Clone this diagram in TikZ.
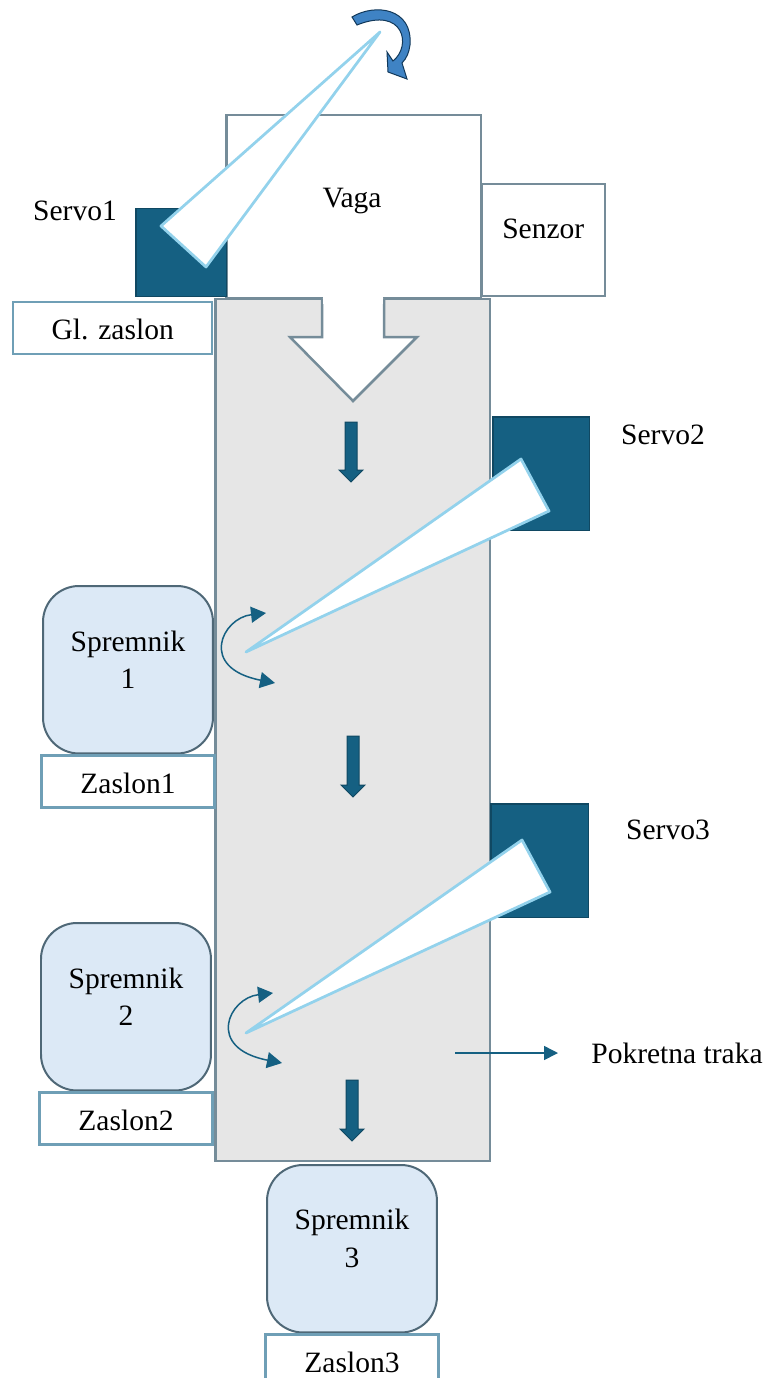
\documentclass[tikz,border=0pt]{standalone}
\usepackage{fontspec}
\setmainfont{Liberation Serif}
\usetikzlibrary{positioning, arrows.meta}
\definecolor{servoBlue}{HTML}{156082}
\definecolor{servoEdge}{HTML}{104862}
\definecolor{frameGrey}{HTML}{758C99}
\definecolor{beltGrey}{HTML}{E6E6E6}
\definecolor{flapBlue}{HTML}{93D2EC}
\definecolor{tankBlue}{HTML}{DCE9F6}
\definecolor{tankEdge}{HTML}{4F6877}
\definecolor{screenEdge}{HTML}{6F9FB6}
\definecolor{turnBlue}{HTML}{3F83C4}
\definecolor{turnEdge}{HTML}{12395A}
\tikzset{
    dropArrow/.pic = {
    \draw[fill=servoBlue, draw=servoEdge, line width=0.02cm] (-6,-#1) -- (6,-#1) -- (6,-12) -- (12,-12) -- (0,0) -- (-12,-12) -- (-6,-12) -- cycle;
    },
    box/.style={rectangle, draw=frameGrey, fill=white, line width=0.05cm, inner sep=0, anchor=north west},
    servo/.style={rectangle, draw=servoEdge, fill=servoBlue, line width=0.03cm, inner sep=0, anchor=north west},
    screen/.style={rectangle, draw=screenEdge, fill=white, line width=0.05cm, inner sep=0, minimum height=1.04cm, text height=0.46cm, text depth=0cm},
    tank/.style={rectangle, rounded corners=0.72cm, draw=tankEdge, fill=tankBlue, line width=0.04cm, inner sep=0, minimum width=3.4cm, minimum height=3.35cm, anchor=north west},
    tanktext/.style={align=center, yshift=0.2cm},
    flap/.style={draw=flapBlue, fill=white, line width=0.055cm, line join=round},
    swing/.style={draw=servoBlue, line width=0.03cm, {Triangle[length=0.3cm, width=0.32cm]}-{Triangle[length=0.3cm, width=0.32cm]}},
}

\begin{document}
\begin{tikzpicture}[x=0.02cm, y=-0.02cm, every node/.style={font=\fontsize{16.8}{21.5}\selectfont}]
    \useasboundingbox (0,0) rectangle (765,1378);

    % scale, belt and the side boxes
    \node[box, minimum width=5.5cm, minimum height=17.24cm, fill=beltGrey] (belt) at (214,298) {};
    \node[box, minimum width=5.1cm, minimum height=3.66cm] (vaga) at (225,114) {};
    \node (vagaText) at (352,201) {Vaga};
    \node[box, minimum width=2.48cm, minimum height=2.24cm, label={[yshift=0.22cm]center:Senzor}] (senzor) at (480,183) {};
    \draw[draw=frameGrey, fill=white, line width=0.05cm] (322,299) -- (322,337) -- (290,337) -- (353,401) -- (417,337) -- (384,337) -- (384,299);
    \fill[white] (323,295) rectangle (383,304);

    % servos
    \node[servo, minimum width=1.82cm, minimum height=1.76cm] (s1) at (135,208) {};
    \node[servo, minimum width=1.94cm, minimum height=2.28cm] (s2) at (492,416) {};
    \node[servo, minimum width=1.96cm, minimum height=2.28cm] (s3) at (490,803) {};
    \node (s1Text) at (75,211) {Servo1};
    \node (s2Text) at (663,435) {Servo2};
    \node (s3Text) at (668,830) {Servo3};

    % flaps
    \coordinate (f1) at (380,32);
    \coordinate (f2) at (246,652);
    \coordinate (f3) at (246,1033);
    \draw[flap] (f1) -- (161,226) -- (206,267) -- cycle;
    \draw[flap] (f2) -- (521,459) -- (549,511) -- cycle;
    \draw[flap] (f3) -- (522,840) -- (550,892) -- cycle;

    % turning arrow above the first flap
    \draw[fill=turnBlue, draw=turnEdge, line width=0.02cm] (352,17) .. controls (375,3) and (413,8) .. (410,45) .. controls (409,52) and (407,58) .. (402,63) -- (407,79) -- (388,72) -- (387,52) -- (393,61) .. controls (412,46) and (404,6) .. (357,25) -- cycle;

    % swings of the flaps
    \coordinate (u2) at (266,613);
    \coordinate (d2) at (275,683);
    \coordinate (u3) at (273,993);
    \coordinate (d3) at (282,1063);
    \draw[swing] (u2) .. controls (222,618) and (198,668) .. (d2);
    \draw[swing] (u3) .. controls (229,998) and (205,1048) .. (d3);

    % falling direction
    \path (351,482) pic {dropArrow=60};
    \path (353,797) pic {dropArrow=61};
    \path (352,1141) pic {dropArrow=61};

    % tanks and their screens
    \node[tank, label={[tanktext]center:Spremnik\\1}] (t1) at (42,585) {};
    \node[screen, minimum width=3.46cm, below=0cm of t1] (z1) {Zaslon1};
    \node[tank, label={[tanktext]center:Spremnik\\2}] (t2) at (40,922) {};
    \node[screen, minimum width=3.46cm, below=0cm of t2] (z2) {Zaslon2};
    \node[tank, label={[tanktext]center:Spremnik\\3}] (t3) at (266,1164) {};
    \node[screen, minimum width=3.46cm, below=0cm of t3] (z3) {Zaslon3};
    \node[screen, minimum width=3.98cm, anchor=north west] (z0) at (12,301) {Gl. zaslon};

    % belt label
    \node[inner sep=0] (traka) at (677,1053) {Pokretna traka};
    \coordinate (trakaStart) at (455,1053);
    \draw[draw=servoBlue, line width=0.03cm, -{Triangle[length=0.28cm, width=0.28cm]}, shorten >=0.66cm] (trakaStart) -- (traka.west);
\end{tikzpicture}
\end{document}
